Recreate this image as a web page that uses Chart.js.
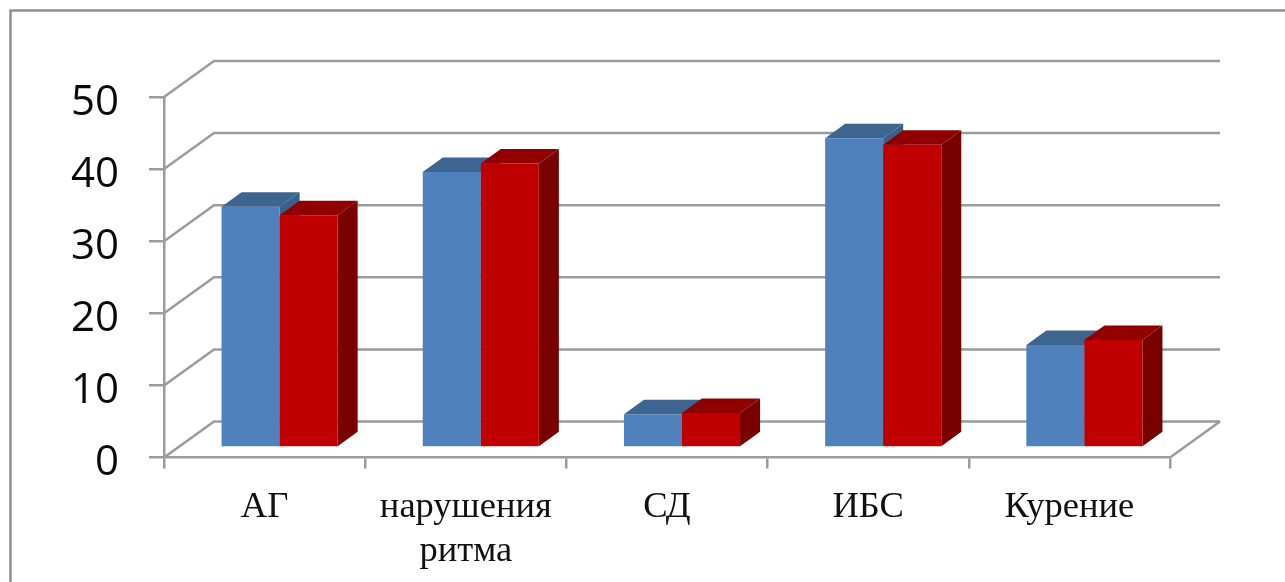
<!DOCTYPE html>
<html lang="ru">
<head>
<meta charset="utf-8">
<title>Факторы риска</title>
<script src="https://cdn.jsdelivr.net/npm/chart.js@4"></script>
<style>
    html, body { margin: 0; background: #fff; overflow: hidden; }
    canvas { display: block; }
</style>
</head>
<body>
<canvas id="riskChart" width="1285" height="582"></canvas>
<script>
const categories = ['АГ', ['нарушения', 'ритма'], 'СД', 'ИБС', 'Курение'];
const seriesOne = [33.4, 38.2, 4.6, 42.9, 14.2];
const seriesTwo = [32.2, 39.4, 4.8, 42.0, 14.9];

const lineColor = '#9b9b9b';
const wall = { dx: 50, dy: -36 };     // offset of the back wall
const barShift = { dx: 15, dy: -10 }; // bars stand in the middle of the floor
const barDepth = { dx: 20, dy: -14.5 };

function face(ctx, color, points) {
    ctx.fillStyle = color;
    ctx.beginPath();
    points.forEach((p, i) => i ? ctx.lineTo(p[0], p[1]) : ctx.moveTo(p[0], p[1]));
    ctx.closePath();
    ctx.fill();
}

// Frame, back wall lines and the extruded bars
const fake3d = {
    id: 'fake3d',
    beforeDraw(chart) {
        const ctx = chart.ctx;
        ctx.save();
        ctx.strokeStyle = '#8e8e8e';
        ctx.lineWidth = 2.5;
        ctx.beginPath();
        ctx.moveTo(10.5, chart.height);
        ctx.lineTo(10.5, 10.5);
        ctx.lineTo(chart.width, 10.5);
        ctx.stroke();
        ctx.restore();
    },
    beforeDatasetsDraw(chart) {
        const ctx = chart.ctx;
        const area = chart.chartArea;
        const y = chart.scales.y;

        ctx.save();
        ctx.strokeStyle = lineColor;
        ctx.lineWidth = 2.5;
        ctx.lineJoin = 'round';
        y.ticks.forEach(tick => {
            const py = y.getPixelForValue(tick.value);
            ctx.beginPath();
            ctx.moveTo(area.left, py);
            ctx.lineTo(area.left + wall.dx, py + wall.dy);
            ctx.lineTo(area.right + wall.dx, py + wall.dy);
            ctx.stroke();
        });
        // right edge of the floor
        ctx.beginPath();
        ctx.moveTo(area.right, area.bottom);
        ctx.lineTo(area.right + wall.dx, area.bottom + wall.dy);
        ctx.stroke();
        ctx.restore();

        // blue first, so the red bars sit on top of its side face
        chart.data.datasets.forEach((ds, i) => {
            chart.getDatasetMeta(i).data.forEach(bar => {
                const left = bar.x - bar.width / 2 + barShift.dx;
                const right = bar.x + bar.width / 2 + barShift.dx;
                const top = bar.y + barShift.dy;
                const bottom = bar.base + barShift.dy;
                const bx = barDepth.dx;
                const by = barDepth.dy;

                face(ctx, ds.sideColor, [[right, top], [right + bx, top + by], [right + bx, bottom + by], [right, bottom]]);
                face(ctx, ds.topColor, [[left, top], [left + bx, top + by], [right + bx, top + by], [right, top]]);

                ctx.save();
                ctx.translate(barShift.dx, barShift.dy);
                bar.draw(ctx, area);
                ctx.restore();
            });
        });
    },
    // the bars are already painted above
    beforeDatasetDraw() {
        return false;
    }
};

new Chart(document.getElementById('riskChart'), {
    type: 'bar',
    plugins: [fake3d],
    data: {
        labels: categories,
        datasets: [
            { label: 'Ряд 1', data: seriesOne, backgroundColor: '#4f81bd', topColor: '#3e6490', sideColor: '#38608c' },
            { label: 'Ряд 2', data: seriesTwo, backgroundColor: '#c00000', topColor: '#900000', sideColor: '#7a0000' }
        ]
    },
    options: {
        responsive: false,
        animation: false,
        layout: {
            autoPadding: false,
            padding: { top: 97, right: 115, left: 0, bottom: 0 }
        },
        plugins: {
            legend: { display: false },
            tooltip: { enabled: false }
        },
        datasets: {
            bar: { categoryPercentage: 0.577, barPercentage: 1, borderWidth: 0 }
        },
        scales: {
            x: {
                afterFit: scale => { scale.height = 124.5; },
                grid: { drawOnChartArea: false, color: lineColor, lineWidth: 2.5, tickLength: 11 },
                border: { color: lineColor, width: 2.5 },
                ticks: {
                    color: '#111',
                    padding: 17,
                    maxRotation: 0,
                    autoSkip: false,
                    font: { family: '"Liberation Serif"', size: 36.5, lineHeight: 1.2 }
                }
            },
            y: {
                min: 0,
                max: 50,
                afterFit: scale => { scale.width = 164; },
                grid: { drawOnChartArea: false, color: lineColor, lineWidth: 2.5, tickLength: 15 },
                border: { color: lineColor, width: 2.5 },
                ticks: {
                    stepSize: 10,
                    color: '#0a0a0a',
                    padding: 30,
                    labelOffset: 6,
                    font: { family: '"Open Sans"', size: 42 }
                }
            }
        }
    }
});
</script>
</body>
</html>
